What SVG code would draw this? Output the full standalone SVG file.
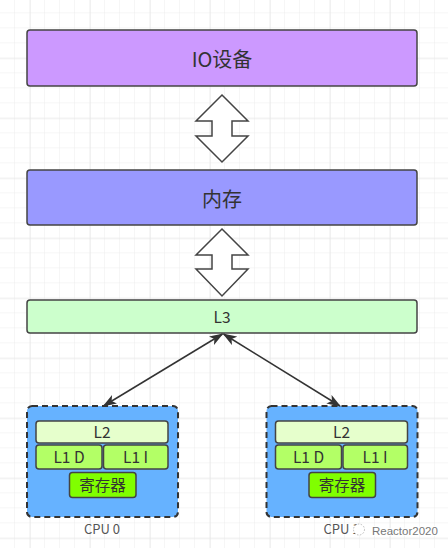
<svg xmlns="http://www.w3.org/2000/svg" width="448" height="548" viewBox="0 0 448 548">
<style>
  .box { stroke: #444; stroke-width: 1.5; }
  .txt { font-family: "Noto Sans CJK SC", "Liberation Sans", sans-serif; fill: #333; text-anchor: middle; }
  .big { font-size: 20px; }
  .mid { font-size: 15.5px; }
  .lbl { font-family: "Noto Sans CJK SC", "Liberation Sans", sans-serif; font-size: 13px; fill: #555; text-anchor: middle; }
  .cpu { fill: #66B2FF; stroke: #333; stroke-width: 2; stroke-dasharray: 6 4; }
  .dbl { fill: #fff; stroke: #444; stroke-width: 1.5; stroke-linejoin: miter; }
  .conn { stroke: #333; stroke-width: 1.5; fill: none; }
</style>
<defs>
  <pattern id="gridMinor" width="15" height="15" patternUnits="userSpaceOnUse" x="0" y="13.3">
    <path d="M15 0 V15 M0 15 H15" stroke="#ececec" stroke-width="1" fill="none"/>
  </pattern>
  <pattern id="gridMajor" width="60" height="60" patternUnits="userSpaceOnUse" x="30" y="58.3">
    <path d="M0 0 V60 M0 0 H60" stroke="#e3e3e3" stroke-width="1" fill="none"/>
  </pattern>
  <marker id="ah" viewBox="0 0 14 10" refX="13" refY="5" markerWidth="14" markerHeight="10" markerUnits="userSpaceOnUse" orient="auto-start-reverse">
    <path d="M0,0 L14,5 L0,10 L3.5,5 Z" fill="#333"/>
  </marker>
</defs>

<rect width="448" height="548" fill="#fff"/>
<rect width="448" height="548" fill="url(#gridMinor)"/>
<rect width="448" height="548" fill="url(#gridMajor)"/>

<g id="io">
  <rect class="box" x="27" y="30" width="390" height="56" rx="3" fill="#CC99FF"/>
  <text class="txt big" x="222" y="67">IO设备</text>
</g>

<g id="memory">
  <rect class="box" x="27" y="170" width="390" height="55" rx="3" fill="#9999FF"/>
  <text class="txt big" x="222" y="207">内存</text>
</g>

<g id="l3">
  <rect class="box" x="27" y="300" width="390" height="33" rx="3" fill="#CCFFCC"/>
  <text class="txt mid" x="222" y="323">L3</text>
</g>

<g id="cpu0">
  <rect class="cpu" x="27" y="406" width="151" height="111" rx="5"/>
  <rect class="box" x="36" y="421" width="132" height="22" rx="3" fill="#E6FFCC"/>
  <text class="txt mid" x="102" y="438">L2</text>
  <rect class="box" x="36" y="445" width="66" height="24" rx="3" fill="#B3FF66"/>
  <text class="txt mid" x="69" y="463">L1 D</text>
  <rect class="box" x="103.5" y="445" width="64.5" height="24" rx="3" fill="#B3FF66"/>
  <text class="txt mid" x="135.5" y="463">L1 I</text>
  <rect class="box" x="69.5" y="472.5" width="66.5" height="25" rx="3" fill="#80FF00"/>
  <text class="txt mid" x="102.5" y="491">寄存器</text>
  <text class="lbl" x="102" y="534">CPU 0</text>
</g>

<g id="cpu1">
  <rect class="cpu" x="266.5" y="406" width="151" height="111" rx="5"/>
  <rect class="box" x="275.5" y="421" width="132" height="22" rx="3" fill="#E6FFCC"/>
  <text class="txt mid" x="341.5" y="438">L2</text>
  <rect class="box" x="275.5" y="445" width="66" height="24" rx="3" fill="#B3FF66"/>
  <text class="txt mid" x="308.5" y="463">L1 D</text>
  <rect class="box" x="343" y="445" width="64.5" height="24" rx="3" fill="#B3FF66"/>
  <text class="txt mid" x="375" y="463">L1 I</text>
  <rect class="box" x="309" y="472.5" width="66.5" height="25" rx="3" fill="#80FF00"/>
  <text class="txt mid" x="342" y="491">寄存器</text>
  <text class="lbl" x="341.5" y="534">CPU 1</text>
</g>

<g id="watermark">
  <circle cx="359" cy="529.5" r="5.5" fill="#fff" stroke="#bbb" stroke-width="1" stroke-dasharray="1.5 1.5"/>
  <text x="372" y="535" font-family="Liberation Sans, sans-serif" font-size="11.5" fill="#777" stroke="#fff" stroke-width="2" paint-order="stroke">Reactor2020</text>
</g>

<g id="connectors">
  <polygon class="dbl" points="222,95 248,121 232,121 232,136 248,136 222,162 196,136 212,136 212,121 196,121"/>
  <polygon class="dbl" points="222,229 248,255 232,255 232,269 248,269 222,296 196,269 212,269 212,255 196,255"/>
  <line class="conn" x1="222.5" y1="334" x2="103.5" y2="406" marker-start="url(#ah)" marker-end="url(#ah)"/>
  <line class="conn" x1="223.5" y1="334" x2="340" y2="406" marker-start="url(#ah)" marker-end="url(#ah)"/>
</g>
</svg>
